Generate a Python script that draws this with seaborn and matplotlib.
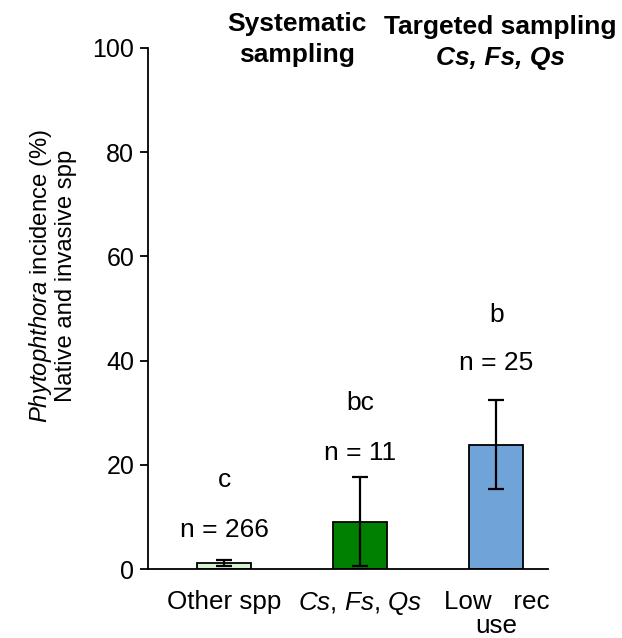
import matplotlib
matplotlib.use("Agg")
import matplotlib.pyplot as plt
import seaborn as sns
import pandas as pd

# data
groups = ["Other spp", "Cs, Fs, Qs", "Low rec use"]
incidence = [1.1, 9.1, 23.9]
err = [0.6, 8.6, 8.6]
letters = ["c", "bc", "b"]
n_labels = ["n = 266", "n = 11", "n = 25"]
letter_y = [17.0, 31.8, 48.7]
n_y = [7.5, 22.2, 39.5]
tick_labels = ["Other spp", r"$\mathit{Cs}$, $\mathit{Fs}$, $\mathit{Qs}$", "Low   rec\nuse"]
bar_colors = ["#d8f2d0", "#008000", "#70a4d8"]

sns.set_style("white")
plt.rcParams["font.family"] = ["Liberation Sans", "DejaVu Sans"]
plt.rcParams["text.color"] = "black"
plt.rcParams["xtick.color"] = "black"
plt.rcParams["ytick.color"] = "black"
plt.rcParams["axes.labelcolor"] = "black"
plt.rcParams["mathtext.fontset"] = "custom"
plt.rcParams["mathtext.rm"] = "Liberation Sans"
plt.rcParams["mathtext.it"] = "Liberation Sans:italic"
plt.rcParams["mathtext.bf"] = "Liberation Sans:bold"

df = pd.DataFrame({"group": groups, "incidence": incidence})

fig = plt.figure(figsize=(6.22, 6.38), dpi=100)
ax = fig.add_axes([0.238, 0.108, 0.643, 0.817])

sns.barplot(data=df, x="group", y="incidence", hue="group", palette=bar_colors,
            saturation=1, width=0.4, edgecolor="black", linewidth=1.3,
            legend=False, ax=ax)
ax.errorbar(range(len(groups)), incidence, yerr=err, fmt="none", ecolor="black",
            elinewidth=1.6, capsize=6, capthick=1.6)

for i in range(len(groups)):
    ax.text(i, letter_y[i], letters[i], ha="center", va="center", fontsize=19)
    ax.text(i, n_y[i], n_labels[i], ha="center", va="center", fontsize=19)

ax.set_xlim(-0.56, 2.38)
ax.set_ylim(0, 100)
ax.set_yticks(range(0, 101, 20))
ax.set_xticks(range(len(groups)))
ax.set_xticklabels(tick_labels, fontsize=18.7, linespacing=0.98)
ax.tick_params(axis="x", length=0, pad=15)
ax.tick_params(axis="y", length=6, width=1.3, direction="out", labelsize=18, pad=4, left=True)
ax.set_xlabel("")
ax.set_ylabel(r"$\mathit{Phytophthora}$ incidence (%)" + "\nNative and invasive spp",
              fontsize=17.2, linespacing=1.05)
ax.yaxis.set_label_coords(-0.178, 0.562)

for s in ["top", "right"]:
    ax.spines[s].set_visible(False)
for s in ["left", "bottom"]:
    ax.spines[s].set_color("black")
    ax.spines[s].set_linewidth(1.3)

fig.text(297 / 622, 1 - 24 / 638, "Systematic", ha="center", va="center",
         fontsize=19, fontweight="bold")
fig.text(297 / 622, 1 - 55 / 638, "sampling", ha="center", va="center",
         fontsize=19, fontweight="bold")
fig.text(500 / 622, 1 - 27 / 638, "Targeted sampling", ha="center", va="center",
         fontsize=19, fontweight="bold")
fig.text(500 / 622, 1 - 58 / 638, "Cs, Fs, Qs", ha="center", va="center",
         fontsize=19, fontweight="bold", fontstyle="italic")

fig.savefig("out.png", dpi=100)
